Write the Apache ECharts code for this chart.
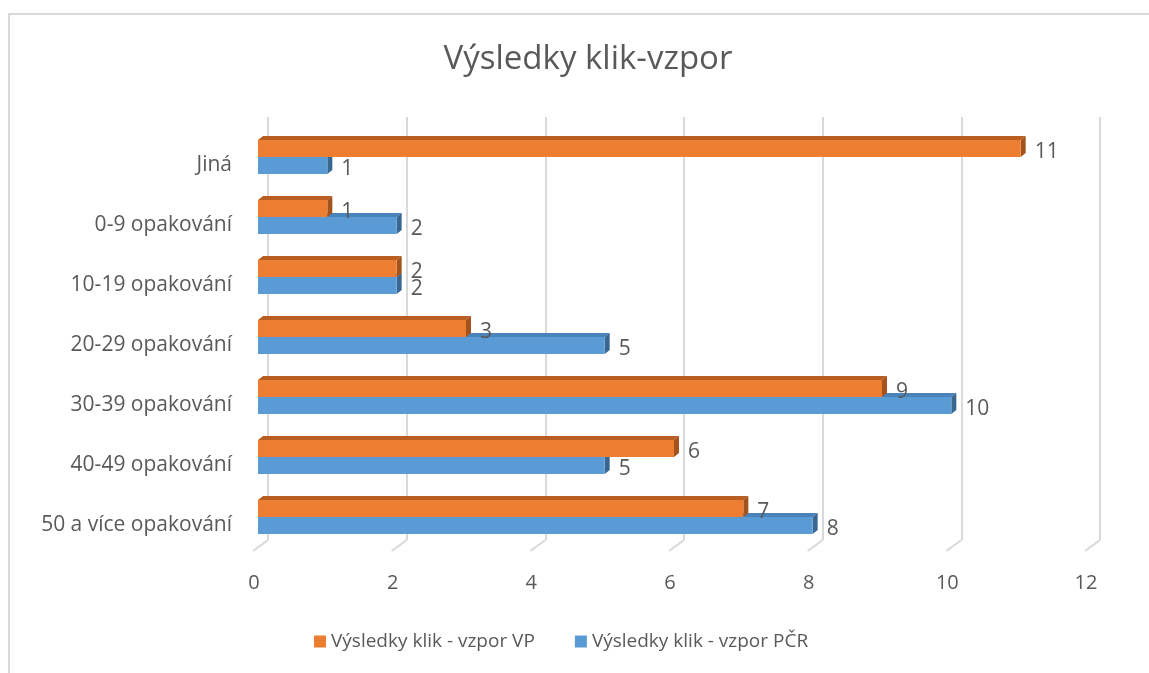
<!DOCTYPE html>
<html>
<head>
<meta charset="utf-8">
<script src="https://cdn.jsdelivr.net/npm/echarts@6/dist/echarts.min.js"></script>
<style>
  html, body { margin: 0; padding: 0; background: #fff; }
  #chart { width: 1149px; height: 673px; }
</style>
</head>
<body>
<div id="chart"></div>
<script>
(function () {

  // data, top to bottom
  var categories = ['Jiná', '0-9 opakování', '10-19 opakování', '20-29 opakování',
    '30-39 opakování', '40-49 opakování', '50 a více opakování'];
  var vpValues = [11, 1, 2, 3, 9, 6, 7];
  var pcrValues = [1, 2, 2, 5, 10, 5, 8];
  var xTicks = [0, 2, 4, 6, 8, 10, 12];
  var seriesNames = ['Výsledky klik - vzpor VP', 'Výsledky klik - vzpor PČR'];

  var font = 'Open Sans';
  var textColor = '#595959';
  var gridColor = '#d9d9d9';
  var dx = 5, dy = 4;          // fake 3d depth
  var barRatio = 17 / 60;      // bar thickness vs category band

  var colors = {
    vp: { front: '#ED7D31', top: '#B85E22', side: '#A4531D' },
    pcr: { front: '#5B9BD5', top: '#4A83BA', side: '#3A6692' }
  };

  function toPairs(values) {
    return values.map(function (v, i) { return [v, i]; });
  }

  // one bar with top + side faces, upper=true -> first bar of the pair
  function makeRender(upper, c) {
    return function (params, api) {
      var val = api.value(0);
      var cat = api.value(1);
      var start = api.coord([0, cat]);
      var end = api.coord([val, cat]);
      var h = api.size([0, 1])[1] * barRatio;
      var y0 = upper ? start[1] - h : start[1];
      var x0 = start[0], x1 = end[0];
      return {
        type: 'group',
        children: [
          { type: 'polygon', shape: { points: [[x0, y0], [x0 + dx, y0 - dy], [x1 + dx, y0 - dy], [x1, y0]] },
            style: { fill: c.top } },
          { type: 'polygon', shape: { points: [[x1, y0], [x1 + dx, y0 - dy], [x1 + dx, y0 + h - dy], [x1, y0 + h]] },
            style: { fill: c.side } },
          { type: 'rect', shape: { x: x0, y: y0, width: x1 - x0, height: h },
            style: { fill: c.front } },
          { type: 'text', z2: 100, x: x1 + dx + 9, y: y0 + h / 2 + 4,
            style: { text: String(val), fill: textColor, font: '21px ' + font, verticalAlign: 'middle' } }
        ]
      };
    };
  }

  // diagonal floor ticks under the back wall lines
  function renderFloor(params, api) {
    var p = api.coord([api.value(0), 0]);
    return {
      type: 'line',
      shape: { x1: p[0], y1: p[1], x2: p[0] - 15, y2: p[1] + 11 },
      style: { stroke: gridColor, lineWidth: 2 }
    };
  }

  var chart = echarts.init(document.getElementById('chart'), null, { renderer: 'canvas' });

  var option = {
    backgroundColor: '#fff',
    animation: false,
    color: [colors.vp.front, colors.pcr.front],
    textStyle: { fontFamily: font },
    title: {
      text: 'Výsledky klik-vzpor',
      left: 583,
      textAlign: 'center',
      top: 38,
      textStyle: { fontFamily: font, fontSize: 33, fontWeight: 'normal', color: textColor }
    },
    legend: {
      left: 309,
      top: 627,
      itemWidth: 12,
      itemHeight: 12,
      itemGap: 40,
      icon: 'rect',
      data: seriesNames,
      textStyle: { fontFamily: font, fontSize: 19, color: textColor }
    },
    graphic: [{
      type: 'rect',
      shape: { x: 9, y: 14, width: 1170, height: 700 },
      style: { fill: 'none', stroke: gridColor, lineWidth: 2 },
      silent: true
    }],
    grid: [
      { left: 258, right: 59, top: 127, height: 420 },
      { left: 268, right: 49, top: 117, height: 423 }
    ],
    xAxis: [{
      gridIndex: 0,
      type: 'value',
      min: 0, max: 12, interval: 2,
      axisLine: { show: false },
      axisTick: { show: false },
      splitLine: { show: false },
      axisLabel: { fontFamily: font, fontSize: 20, color: textColor, margin: 26, padding: [0, 8, 0, 0] }
    }, {
      gridIndex: 1,
      type: 'value',
      min: 0, max: 12, interval: 2,
      axisLine: { show: false },
      axisTick: { show: false },
      axisLabel: { show: false },
      splitLine: { lineStyle: { color: gridColor, width: 2 } }
    }],
    yAxis: [{
      gridIndex: 0,
      type: 'category',
      data: categories,
      inverse: true,
      axisLine: { show: false },
      axisTick: { show: false },
      axisLabel: { fontFamily: font, fontSize: 21, color: textColor, margin: 26,
        verticalAlign: 'top', lineHeight: 17 }
    }, {
      gridIndex: 1,
      type: 'value',
      min: 0, max: 1,
      show: false
    }],
    series: [{
      name: seriesNames[1],
      type: 'custom',
      xAxisIndex: 0, yAxisIndex: 0,
      itemStyle: { color: colors.pcr.front },
      renderItem: makeRender(false, colors.pcr),
      data: toPairs(pcrValues),
      z: 3
    }, {
      name: seriesNames[0],
      type: 'custom',
      xAxisIndex: 0, yAxisIndex: 0,
      itemStyle: { color: colors.vp.front },
      renderItem: makeRender(true, colors.vp),
      data: toPairs(vpValues),
      z: 3
    }, {
      type: 'custom',
      xAxisIndex: 1, yAxisIndex: 1,
      renderItem: renderFloor,
      data: xTicks.map(function (t) { return [t]; }),
      silent: true,
      z: 1
    }]
  };

  chart.setOption(option);
}());
</script>
</body>
</html>
